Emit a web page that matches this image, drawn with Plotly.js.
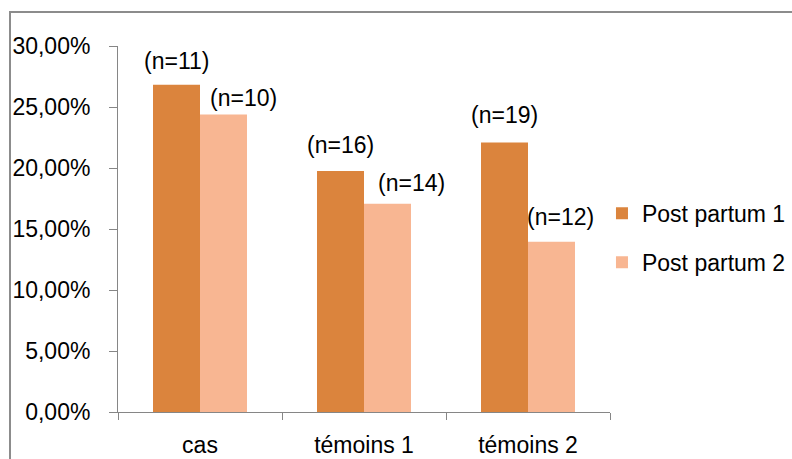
<!DOCTYPE html>
<html>
<head>
<meta charset="utf-8">
<script src="https://cdn.plot.ly/plotly-3.0.1.min.js"></script>
<style>
  html, body { margin: 0; padding: 0; background: #fff; }
  #wrap { position: relative; width: 792px; height: 459px; overflow: hidden; }
  #chart { width: 792px; height: 459px; }
  #frame { position: absolute; left: 9px; top: 11px; width: 900px; height: 600px;
           border-left: 2px solid #8c8c8c; border-top: 2px solid #8c8c8c; pointer-events: none; }
</style>
</head>
<body>
<div id="wrap">
  <div id="chart"></div>
  <div id="frame"></div>
</div>
<script>
const categories = ["cas", "témoins 1", "témoins 2"];
const seriesNames = ["Post partum 1", "Post partum 2"];
const postPartum1 = [0.2683, 0.1975, 0.2209];
const postPartum2 = [0.2439, 0.1707, 0.1395];
const labels1 = ["(n=11)", "(n=16)", "(n=19)"];
const labels2 = ["(n=10)", "(n=14)", "(n=12)"];
const colors = ["#DB843D", "#F8B692"];

const font = { family: "Liberation Sans, Arial, sans-serif", size: 23, color: "#000" };

const traces = [
  { type: "bar", name: seriesNames[0], x: categories, y: postPartum1,
    marker: { color: colors[0] }, legendgroup: "a", hoverinfo: "none" },
  { type: "bar", name: seriesNames[1], x: categories, y: postPartum2,
    marker: { color: colors[1] }, legendgroup: "b", hoverinfo: "none" }
];

// data label placement (manual nudges as in the original chart), in pixels
const halfBar = 23.5;
const nudges1 = [[0, 24], [0, 26], [0, 28]];
const nudges2 = [[20, 16], [24, 21], [8.5, 25]];
const annotations = [];
categories.forEach((c, i) => {
  annotations.push({ x: c, y: postPartum1[i], xref: "x", yref: "y", text: labels1[i],
    showarrow: false, font: font, xanchor: "center", yanchor: "middle",
    xshift: -halfBar + nudges1[i][0], yshift: nudges1[i][1] });
  annotations.push({ x: c, y: postPartum2[i], xref: "x", yref: "y", text: labels2[i],
    showarrow: false, font: font, xanchor: "center", yanchor: "middle",
    xshift: halfBar + nudges2[i][0], yshift: nudges2[i][1] });
});

const layout = {
  width: 792, height: 459,
  margin: { l: 118, r: 182, t: 46, b: 47, autoexpand: false },
  paper_bgcolor: "#fff", plot_bgcolor: "#fff",
  font: font,
  separators: ",.",
  barmode: "group",
  bargap: 0.427,
  bargroupgap: 0,
  showlegend: true,
  annotations: annotations,
  legend: { x: 0.9837, xanchor: "left", y: 0.476, yanchor: "middle",
            font: font, tracegroupgap: 16, traceorder: "grouped", bgcolor: "rgba(0,0,0,0)" },
  xaxis: { type: "category", tickson: "boundaries", ticks: "outside", ticklen: 7,
           tickcolor: "#868686", showline: true, linecolor: "#868686", linewidth: 1,
           showgrid: false, zeroline: false, tickfont: font, ticklabelstandoff: 12, fixedrange: true },
  yaxis: { range: [0, 0.30], dtick: 0.05, tick0: 0, tickformat: ".2%", ticks: "outside", ticklen: 8,
           tickcolor: "#868686", showline: true, linecolor: "#868686", linewidth: 1,
           showgrid: false, zeroline: false, tickfont: font, ticklabelstandoff: 14, fixedrange: true }
};

Plotly.newPlot("chart", traces, layout, { displayModeBar: false, staticPlot: true });
</script>
</body>
</html>
